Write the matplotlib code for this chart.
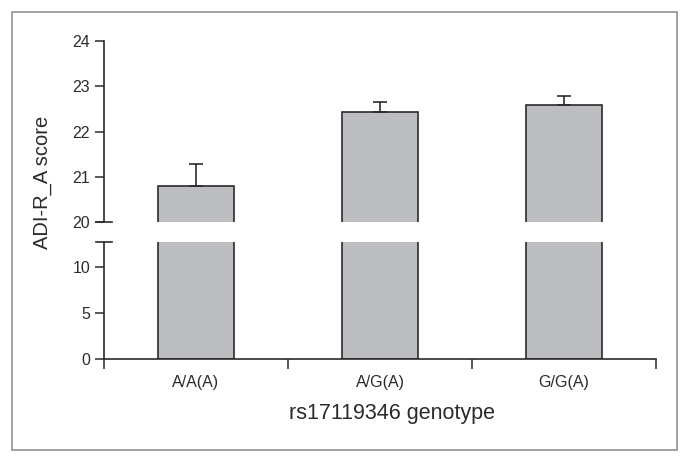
import matplotlib
matplotlib.use("Agg")
import matplotlib.pyplot as plt
from matplotlib.patches import Rectangle

# genotype groups and ADI-R_A scores (mean + SEM)
genotypes = ["A/A(A)", "A/G(A)", "G/G(A)"]
scores = [20.81, 22.42, 22.58]
sem = [0.47, 0.24, 0.20]

plt.rcParams['font.family'] = ['Liberation Sans', 'DejaVu Sans']
ink = '#2b2b2b'
barcol = '#bdbec2'

fig = plt.figure(figsize=(6.9, 4.63), dpi=100)
W, H = 690.0, 463.0

# frame round the whole figure
fig.patches.append(Rectangle((12 / W, 1 - 450 / H), 665 / W, 438 / H,
                             transform=fig.transFigure, fill=False,
                             edgecolor='#9a9a9a', linewidth=1.3))

left, width = 104 / W, 552 / W
ax_top = fig.add_axes([left, 1 - 222.3 / H, width, 181.6 / H])
ax_bot = fig.add_axes([left, 1 - 359.3 / H, width, 117.3 / H])

x = list(range(len(genotypes)))
bw = 0.41
for ax in (ax_top, ax_bot):
    ax.bar(x, scores, width=bw, color=barcol, edgecolor=ink, linewidth=1.2, zorder=2)
    ax.set_xlim(-0.5, 2.5)
    for s in ('top', 'right'):
        ax.spines[s].set_visible(False)
    ax.spines['left'].set_color(ink)
    ax.spines['left'].set_linewidth(1.2)
    ax.tick_params(axis='y', direction='out', length=6.5, width=1.1,
                   color=ink, labelcolor=ink, labelsize=11.5, pad=3.5)

# only the upper half of the error bar
ax_top.errorbar(x, scores, yerr=[[0] * len(sem), sem], fmt='none',
                ecolor=ink, elinewidth=1.2, capsize=4.7, capthick=1.2, zorder=3)

ax_top.set_ylim(20, 24)
ax_top.set_yticks([20, 21, 22, 23, 24])
ax_top.spines['bottom'].set_visible(False)
ax_top.set_xticks([])

ax_bot.set_ylim(0, 12.7)
ax_bot.set_yticks([0, 5, 10])
ax_bot.spines['bottom'].set_color(ink)
ax_bot.spines['bottom'].set_linewidth(1.2)
ax_bot.set_xticks([-0.5, 0.5, 1.5, 2.5])
ax_bot.set_xticklabels([])
ax_bot.tick_params(axis='x', direction='out', length=7.2, width=1.1, color=ink)
ax_bot.set_xticks(x, minor=True)
ax_bot.set_xticklabels(genotypes, minor=True)
ax_bot.tick_params(axis='x', which='minor', length=0, pad=11,
                   labelsize=11.5, labelcolor=ink)

# break marks crossing the y axis
d = 0.045
ax_top.plot([-0.5 - d, -0.5 + d], [20, 20], color=ink, lw=1.2, clip_on=False)
ax_bot.plot([-0.5 - d, -0.5 + d], [12.7, 12.7], color=ink, lw=1.2, clip_on=False)

fig.text(42 / W, 1 - 182 / H, "ADI-R_A score", rotation=90, ha='center',
         va='center', fontsize=14.5, color=ink)
fig.text(392 / W, 1 - 413 / H, "rs17119346 genotype", ha='center',
         va='center', fontsize=15.5, color=ink)

fig.savefig('out.png', dpi=100)
